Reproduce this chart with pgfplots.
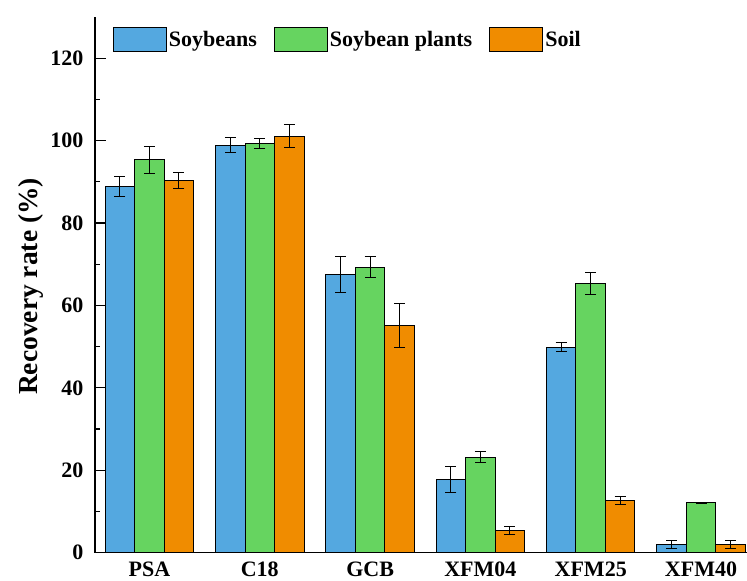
\documentclass[border=0pt]{standalone}
\usepackage{fontspec}
\setmainfont{Liberation Serif}
\usepackage{pgfplots}
\pgfplotsset{compat=1.18}
\definecolor{cblue}{RGB}{84,168,224}
\definecolor{cgreen}{RGB}{102,212,96}
\definecolor{corange}{RGB}{240,140,0}
\pgfplotsset{myerr/.style={
  error bars/y dir=both, error bars/y explicit,
  error bars/error bar style={line width=1pt, black},
  error bars/error mark options={rotate=90, mark size=5.5pt, line width=1pt, black}}}
\begin{document}
\begin{tikzpicture}
\begin{axis}[
  at={(0pt,0pt)}, anchor=south west,
  scale only axis, width=652pt, height=535.7pt,
  xmin=-0.494, xmax=5.417, ymin=0, ymax=130,
  axis x line=bottom, axis y line=left,
  axis line style={-, line width=1.2pt},
  ybar=0pt, bar width=29.5pt,
  xtick={0,1,2,3,4,5},
  xticklabels={PSA,C18,GCB,XFM04,XFM25,XFM40},
  major x tick style={draw=none},
  ytick={0,20,40,60,80,100,120},
  minor y tick num=1,
  tick align=inside,
  major tick length=11pt, minor tick length=5.5pt,
  every tick/.style={black, line width=1.2pt},
  /pgf/number format/assume math mode=true,
  tick label style={font=\bfseries\fontsize{22}{26}\selectfont},
  xticklabel style={yshift=-6pt},
  yticklabel style={xshift=-8pt},
  ylabel={Recovery rate (\%)},
  ylabel style={font=\bfseries\fontsize{27.5}{32}\selectfont, at={(axis description cs:-0.099,0.497)}, anchor=center},
  legend columns=3,
  legend style={draw=none, fill=none, at={(axis description cs:0.027,0.982)}, anchor=north west, inner sep=0pt,
    font=\bfseries\fontsize{22}{26}\selectfont,
    /tikz/every even column/.append style={column sep=15pt}},
  legend cell align=left,
  legend image code/.code={\draw[#1, line width=1pt] (0pt,-12pt) rectangle (53pt,12pt);},
]
\addplot[fill=cblue, draw=black, line width=1pt, myerr] coordinates {
 (0,88.8) +- (0,2.4)
 (1,98.9) +- (0,1.8)
 (2,67.5) +- (0,4.3)
 (3,17.7) +- (0,3.2)
 (4,49.9) +- (0,1.1)
 (5,2.0) +- (0,0.9)
};
\addplot[fill=cgreen, draw=black, line width=1pt, myerr] coordinates {
 (0,95.3) +- (0,3.3)
 (1,99.2) +- (0,1.2)
 (2,69.3) +- (0,2.5)
 (3,23.2) +- (0,1.3)
 (4,65.3) +- (0,2.6)
 (5,12.1) +- (0,0.2)
};
\addplot[fill=corange, draw=black, line width=1pt, myerr] coordinates {
 (0,90.3) +- (0,2.0)
 (1,101.1) +- (0,2.7)
 (2,55.2) +- (0,5.3)
 (3,5.3) +- (0,1.0)
 (4,12.6) +- (0,1.0)
 (5,2.0) +- (0,0.9)
};
\legend{Soybeans,Soybean plants,Soil}
\end{axis}
\pgfresetboundingbox
\path[use as bounding box] (-95pt,-28.3pt) rectangle (652pt,552.7pt);
\end{tikzpicture}
\end{document}
